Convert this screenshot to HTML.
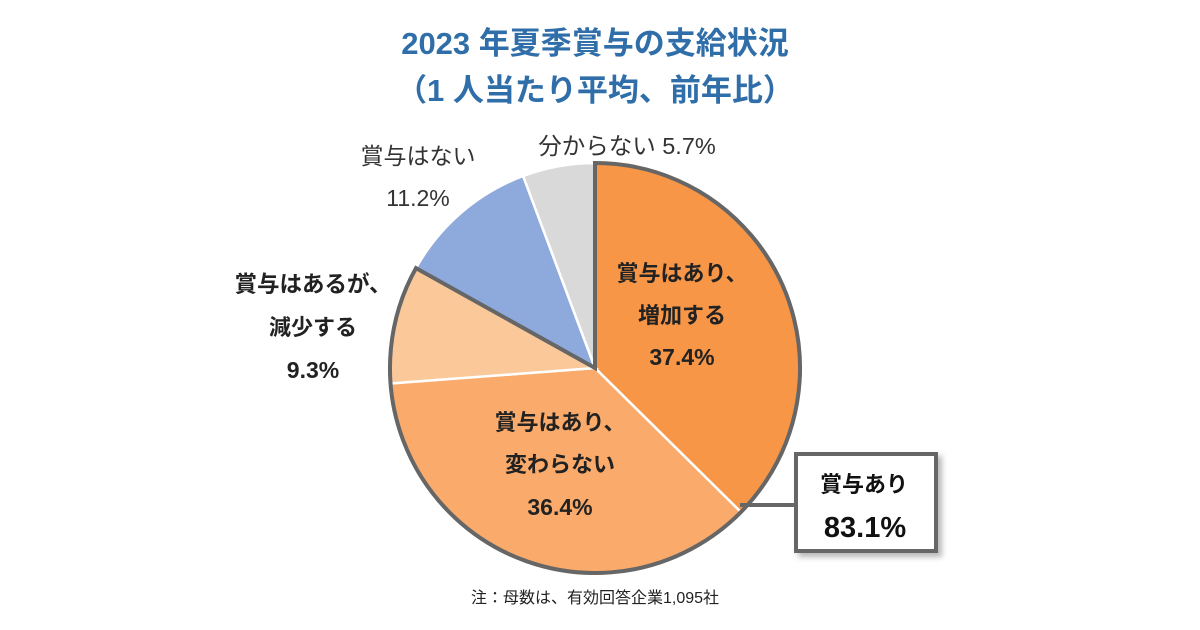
<!DOCTYPE html>
<html><head><meta charset="utf-8"><style>
body{margin:0;background:#fff;}
svg{display:block;font-family:"Liberation Sans","Noto Sans CJK JP",sans-serif;}
</style></head><body>
<svg id="c" width="1200" height="630" viewBox="0 0 1200 630">
<defs><filter id="sh" x="-20%" y="-20%" width="150%" height="150%"><feDropShadow dx="4" dy="4" stdDeviation="3" flood-color="#999" flood-opacity="0.7"/></filter></defs>
<text x="595" y="54" text-anchor="middle" font-size="31" font-weight="bold" fill="#2F6EA8">2023 年夏季賞与の支給状況</text>
<text x="595" y="101" text-anchor="middle" font-size="31" font-weight="bold" fill="#2F6EA8">（1 人当たり平均、前年比）</text>
<g id="slices"></g>
<g id="labels" font-size="22" text-anchor="middle">
<text x="682" y="281" font-weight="bold" fill="#222">賞与はあり、</text>
<text x="682" y="323" font-weight="bold" fill="#222">増加する</text>
<text x="682" y="365" font-weight="bold" fill="#222" font-size="23">37.4%</text>
<text x="560" y="430" font-weight="bold" fill="#222">賞与はあり、</text>
<text x="560" y="472" font-weight="bold" fill="#222">変わらない</text>
<text x="560" y="515" font-weight="bold" fill="#222" font-size="23">36.4%</text>
<text x="313" y="292" font-weight="bold" fill="#222" font-size="22.5">賞与はあるが、</text>
<text x="313" y="335" font-weight="bold" fill="#222">減少する</text>
<text x="313" y="378" font-weight="bold" fill="#222" font-size="23">9.3%</text>
<text x="418" y="164" fill="#333" font-size="23">賞与はない</text>
<text x="418" y="206" fill="#333" font-size="23">11.2%</text>
<text x="627" y="154" fill="#333" font-size="23.5">分からない 5.7%</text>
</g>
<line x1="740" y1="505" x2="796" y2="505" stroke="#666" stroke-width="4"/>
<rect x="796" y="454" width="140" height="97" fill="#fff" stroke="#666" stroke-width="4" filter="url(#sh)"/>
<text x="864" y="492" text-anchor="middle" font-size="22" font-weight="bold" fill="#111">賞与あり</text>
<text x="865" y="537" text-anchor="middle" font-size="29" font-weight="bold" fill="#111">83.1%</text>
<text x="595" y="603" text-anchor="middle" font-size="16" fill="#222">注：母数は、有効回答企業1,095社</text>
</svg>
<script>
const categories=["増加","変わらない","減少","賞与はない","分からない"];
const values=[37.4,36.4,9.3,11.2,5.7];
const colors=["#F79646","#FAAB6B","#FBC89A","#8EA9DB","#D9D9D9"];
const cx=595,cy=368,r=205;
const g=document.getElementById('slices');
const NS="http://www.w3.org/2000/svg";
const total=values.reduce((a,b)=>a+b,0);
function pt(a,rr){return [cx+rr*Math.sin(a),cy-rr*Math.cos(a)];}
let a=0;const angs=[];
values.forEach((v,i)=>{
  const a1=a+v/total*2*Math.PI;angs.push([a,a1]);
  const p0=pt(a,r),p1=pt(a1,r);const large=(a1-a)>Math.PI?1:0;
  const p=document.createElementNS(NS,'path');
  p.setAttribute('d',`M${cx},${cy}L${p0[0]},${p0[1]}A${r},${r} 0 ${large} 1 ${p1[0]},${p1[1]}Z`);
  p.setAttribute('fill',colors[i]);p.setAttribute('stroke','#fff');p.setAttribute('stroke-width','2.5');
  
  
  g.appendChild(p);a=a1;
});
const s=angs[0][0],e=angs[2][1];
const q0=pt(s,r),q1=pt(e,r);
const o=document.createElementNS(NS,'path');
o.setAttribute('d',`M${cx},${cy}L${q0[0]},${q0[1]}A${r},${r} 0 ${(e-s)>Math.PI?1:0} 1 ${q1[0]},${q1[1]}Z`);
o.setAttribute('fill','none');o.setAttribute('stroke','#666');o.setAttribute('stroke-width','4');o.setAttribute('stroke-linejoin','miter');


g.appendChild(o);
</script>
</body></html>
